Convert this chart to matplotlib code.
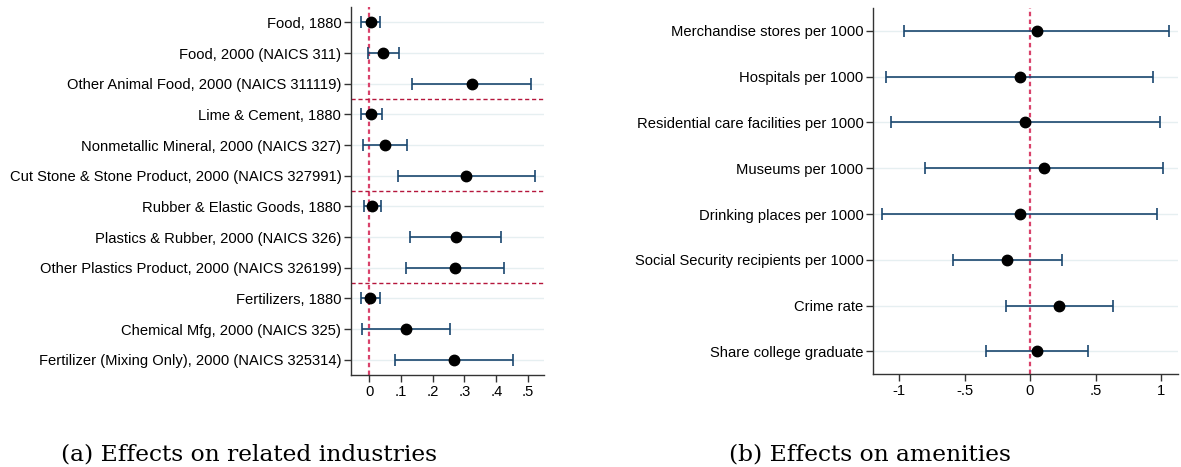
import matplotlib
matplotlib.use('Agg')
import matplotlib.pyplot as plt
import numpy as np

plt.rcParams['font.family'] = ['Liberation Sans', 'DejaVu Sans']

# panel (a): related industries
ind_labels = ['Food, 1880', 'Food, 2000 (NAICS 311)', 'Other Animal Food, 2000 (NAICS 311119)',
              'Lime & Cement, 1880', 'Nonmetallic Mineral, 2000 (NAICS 327)',
              'Cut Stone & Stone Product, 2000 (NAICS 327991)',
              'Rubber & Elastic Goods, 1880', 'Plastics & Rubber, 2000 (NAICS 326)',
              'Other Plastics Product, 2000 (NAICS 326199)',
              'Fertilizers, 1880', 'Chemical Mfg, 2000 (NAICS 325)',
              'Fertilizer (Mixing Only), 2000 (NAICS 325314)']
ind_coef = [0.005, 0.045, 0.323, 0.005, 0.050, 0.306, 0.010, 0.272, 0.269, 0.002, 0.117, 0.268]
ind_lo = [-0.024, -0.003, 0.134, -0.026, -0.018, 0.091, -0.016, 0.130, 0.116, -0.025, -0.022, 0.082]
ind_hi = [0.035, 0.095, 0.509, 0.039, 0.120, 0.522, 0.036, 0.416, 0.425, 0.033, 0.255, 0.454]
ind_ticks = [0, 0.1, 0.2, 0.3, 0.4, 0.5]
ind_ticklabels = ['0', '.1', '.2', '.3', '.4', '.5']
group_breaks = [3.5, 6.5, 9.5]

# panel (b): amenities
am_labels = ['Merchandise stores per 1000', 'Hospitals per 1000',
             'Residential care facilities per 1000', 'Museums per 1000',
             'Drinking places per 1000', 'Social Security recipients per 1000',
             'Crime rate', 'Share college graduate']
am_coef = [0.051, -0.079, -0.036, 0.104, -0.076, -0.173, 0.221, 0.053]
am_lo = [-0.962, -1.099, -1.059, -0.802, -1.127, -0.588, -0.186, -0.336]
am_hi = [1.064, 0.939, 0.990, 1.015, 0.972, 0.242, 0.631, 0.440]
am_ticks = [-1, -0.5, 0, 0.5, 1]
am_ticklabels = ['-1', '-.5', '0', '.5', '1']

navy = '#1a476f'
grid_c = '#e6eff1'
zero_c = '#d9426b'
sep_c = '#b5163c'

fig = plt.figure(figsize=(11.81, 4.67), dpi=100)
ax1 = fig.add_axes([0.2972, 0.197, 0.1634, 0.788])
ax2 = fig.add_axes([0.7395, 0.1985, 0.258, 0.7845])


def coefplot(ax, labels, coef, lo, hi, ticks, ticklabels, xlim):
    y = np.arange(1, len(labels) + 1)
    coef = np.array(coef)
    lo = np.array(lo)
    hi = np.array(hi)
    for yy in y:
        ax.axhline(yy, color=grid_c, lw=1.0, zorder=0)
    ax.axvline(0, color=zero_c, lw=1.6, ls=(0, (2, 1.5)), zorder=1)
    ax.errorbar(coef, y, xerr=[coef - lo, hi - coef], fmt='none', ecolor=navy,
                elinewidth=1.2, capsize=4, capthick=1.2, zorder=2)
    ax.plot(coef, y, 'o', color='black', ms=7.5, zorder=3)
    ax.set_yticks(y)
    ax.set_yticklabels(labels, fontsize=10.6)
    ax.set_ylim(len(labels) + 0.5, 0.5)
    ax.set_xticks(ticks)
    ax.set_xticklabels(ticklabels, fontsize=10.6)
    ax.set_xlim(*xlim)
    for s in ['top', 'right']:
        ax.spines[s].set_visible(False)
    for s in ['left', 'bottom']:
        ax.spines[s].set_color('#333333')
        ax.spines[s].set_linewidth(1.0)
    ax.tick_params(length=5, width=1, color='#333333', labelcolor='black', pad=2)


coefplot(ax1, ind_labels, ind_coef, ind_lo, ind_hi, ind_ticks, ind_ticklabels, (-0.057, 0.55))
for b in group_breaks:
    ax1.axhline(b, color=sep_c, lw=1.0, ls=(0, (3, 2)), zorder=1)

coefplot(ax2, am_labels, am_coef, am_lo, am_hi, am_ticks, am_ticklabels, (-1.196, 1.13))

cap_font = ['DejaVu Serif']
fig.text(0.2105, 0.014, '(a) Effects on related industries', fontsize=16.8,
         family=cap_font, ha='center')
fig.text(0.737, 0.014, '(b) Effects on amenities', fontsize=16.8,
         family=cap_font, ha='center')

fig.savefig('out.png', dpi=100)
